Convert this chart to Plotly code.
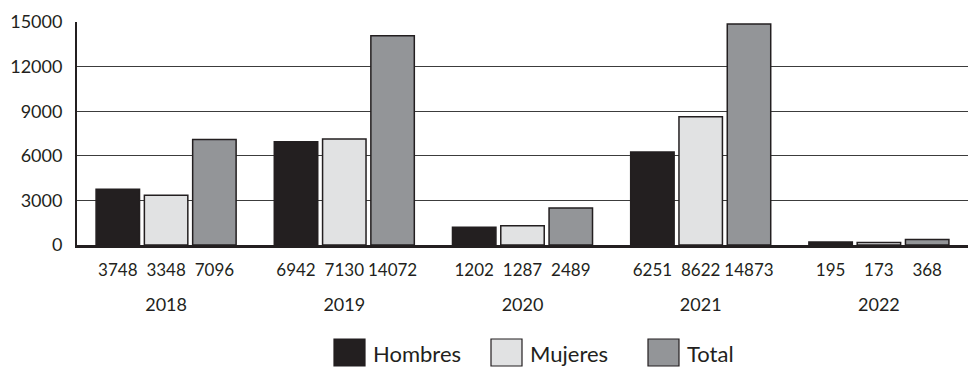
import plotly.graph_objects as go

years = ["2018", "2019", "2020", "2021", "2022"]
hombres = [3748, 6942, 1202, 6251, 195]
mujeres = [3348, 7130, 1287, 8622, 173]
total = [7096, 14072, 2489, 14873, 368]
series_names = ["Hombres", "Mujeres", "Total"]
series_values = [hombres, mujeres, total]
series_colors = ["#231f20", "#e1e2e3", "#939598"]
y_ticks = [0, 3000, 6000, 9000, 12000, 15000]

FONT = "Lato, Open Sans, sans-serif"
INK = "#231f20"

W, H = 968, 368
ML, MR, MT, MB = 77, 0, 22, 123
BARGAP, GROUPGAP = 0.187, 0.1

fig = go.Figure()
for name, vals, col in zip(series_names, series_values, series_colors):
    fig.add_trace(go.Bar(
        x=years, y=vals, name=name,
        marker=dict(color=col, line=dict(color=INK, width=1.5)),
        showlegend=False, hoverinfo="x+y+name",
    ))

# value labels on a companion axis aligned to the grouped bar slots
n = len(series_values)
slot = (1 - BARGAP) / n
tickvals, ticktext = [], []
for i in range(len(years)):
    for j, vals in enumerate(series_values):
        tickvals.append(i + (j - (n - 1) / 2) * slot)
        ticktext.append(str(vals[i]))

fig.add_trace(go.Scatter(x=[tickvals[0]], y=[0], xaxis="x2", mode="markers",
                         marker=dict(opacity=0), showlegend=False, hoverinfo="skip"))

fig.update_layout(
    width=W, height=H,
    margin=dict(l=ML, r=MR, t=MT, b=MB),
    paper_bgcolor="white", plot_bgcolor="white",
    barmode="group", bargap=BARGAP, bargroupgap=GROUPGAP,
    font=dict(family=FONT, color=INK, size=18),
    xaxis=dict(type="category", showgrid=False, showline=True, linecolor=INK,
               linewidth=3, ticks="", tickfont=dict(size=18), tickangle=0,
               ticklabelstandoff=41, automargin=False,
               range=[-0.5, len(years) - 0.5]),
    xaxis2=dict(overlaying="x", anchor="y", side="bottom", range=[-0.5, len(years) - 0.5],
                tickmode="array", tickvals=tickvals, ticktext=ticktext, tickangle=0,
                showgrid=False, showline=False, zeroline=False, ticks="",
                tickfont=dict(size=17), ticklabelstandoff=13, automargin=False),
    yaxis=dict(range=[0, 15000], tickmode="array", tickvals=y_ticks,
               ticktext=[str(v) for v in y_ticks], showgrid=True, gridcolor="#3c3c3c",
               gridwidth=1, showline=True, linecolor=INK, linewidth=2, ticks="",
               zeroline=False, tickfont=dict(size=18), ticklabelstandoff=9,
               automargin=False),
)

# custom legend with large swatches
pw, ph = W - ML - MR, H - MT - MB
def px(x):
    return (x - ML) / pw
def py(y):
    return (H - MB - y) / ph

legend_x = [334, 491, 648]
sw_w, sw_top, sw_bot = 31, 339, 366
for name, col, lx in zip(series_names, series_colors, legend_x):
    fig.add_shape(type="rect", xref="paper", yref="paper",
                  x0=px(lx), x1=px(lx + sw_w), y0=py(sw_bot), y1=py(sw_top),
                  fillcolor=col, line=dict(color=INK, width=1.2))
    fig.add_annotation(xref="paper", yref="paper", x=px(lx + sw_w + 6),
                       y=py((sw_top + sw_bot) / 2 + 1), text=name, showarrow=False,
                       xanchor="left", yanchor="middle", font=dict(size=22, color=INK))

fig.write_html("out.html", config={"displayModeBar": False},
               post_script="document.body.style.margin='0';document.body.style.overflow='hidden';")
